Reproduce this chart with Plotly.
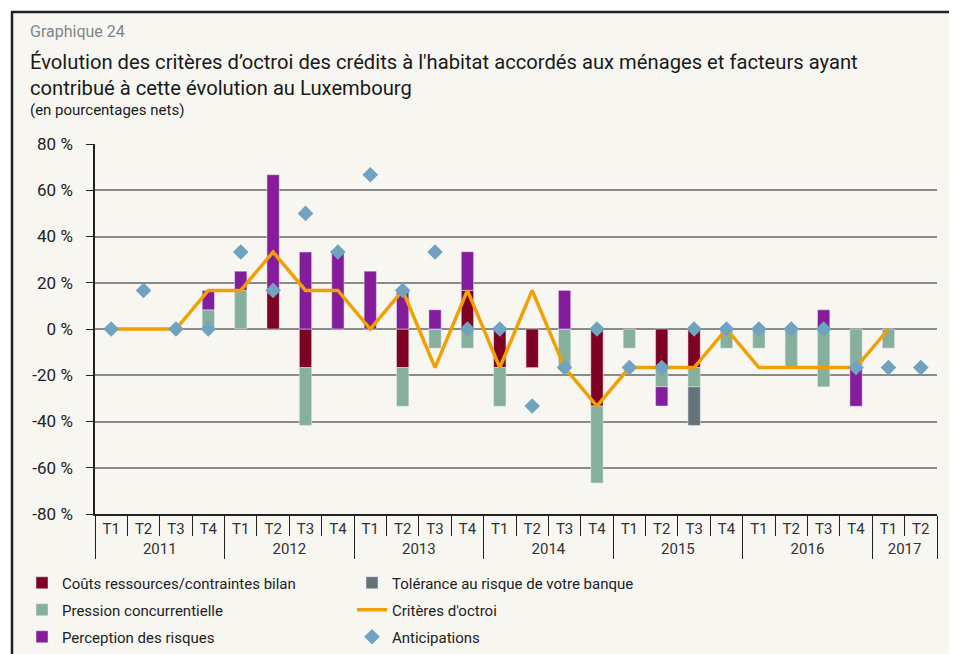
import plotly.graph_objects as go

years = ["2011"] * 4 + ["2012"] * 4 + ["2013"] * 4 + ["2014"] * 4 + ["2015"] * 4 + ["2016"] * 4 + ["2017"] * 2
quarters = ["T1", "T2", "T3", "T4"] * 6 + ["T1", "T2"]

couts = [None, None, None, None,
         None, 16.7, -16.7, None,
         None, -16.7, None, 16.7,
         -16.7, -16.7, None, -33.3,
         None, -16.7, -16.7, None,
         None, None, None, None,
         None, None]
pression = [None, None, None, 8.3,
            16.7, None, -25.0, None,
            None, -16.7, -8.3, -8.3,
            -16.7, None, -16.7, -33.3,
            -8.3, -8.3, -8.3, -8.3,
            -8.3, -16.7, -25.0, -16.7,
            -8.3, None]
perception = [None, None, None, 8.3,
              8.3, 50.0, 33.3, 33.3,
              25.0, 16.7, 8.3, 16.7,
              None, None, 16.7, None,
              None, -8.3, None, None,
              None, None, 8.3, -16.7,
              None, None]
tolerance = [None] * 18 + [-16.7] + [None] * 7
criteres = [0, 0, 0, 16.7,
            16.7, 33.3, 16.7, 16.7,
            0, 16.7, -16.7, 16.7,
            -16.7, 16.7, -16.7, -33.3,
            -16.7, -16.7, -16.7, 0,
            -16.7, -16.7, -16.7, -16.7,
            0, None]
anticipations = [0, 16.7, 0, 0,
                 33.3, 16.7, 50.0, 33.3,
                 66.7, 16.7, 33.3, 0,
                 0, -33.3, -16.7, 0,
                 -16.7, -16.7, 0, 0,
                 0, 0, 0, -16.7,
                 -16.7, -16.7]

y_ticks = [-80, -60, -40, -20, 0, 20, 40, 60, 80]
y_labels = ["-80 %", "-60 %", "-40 %", "-20 %", "0 %", "20 %", "40 %", "60 %", "80 %"]

FONT = "Roboto"
x = [years, quarters]

# page offset of the figure inside the page (body margin)
OFF = 8
W, H = 957 - OFF, 654 - OFF
# plot area in figure pixel coordinates
L, R, T, B = 95 - OFF, 937 - OFF, 144 - OFF, 514 - OFF
pw, ph = R - L, B - T


def px(xp):
    return (xp - OFF - L) / pw


def py(yp):
    return (B - (yp - OFF)) / ph


fig = go.Figure()
fig.add_trace(go.Bar(x=x, y=couts, name="Coûts ressources/contraintes bilan",
                     marker_color="#7E0023", legend="legend"))
fig.add_trace(go.Bar(x=x, y=pression, name="Pression concurrentielle",
                     marker_color="#86B09C", legend="legend2"))
fig.add_trace(go.Bar(x=x, y=perception, name="Perception des risques",
                     marker_color="#841C9C", legend="legend3"))
fig.add_trace(go.Bar(x=x, y=tolerance, name="Tolérance au risque de votre banque",
                     marker_color="#64737A", legend="legend"))
fig.add_trace(go.Scatter(x=x, y=criteres, name="Critères d'octroi", mode="lines",
                         line=dict(color="#F0A000", width=3.5), legend="legend2"))
fig.add_trace(go.Scatter(x=x, y=anticipations, name="Anticipations", mode="markers",
                         marker=dict(symbol="diamond", size=12, color="#6FA3C0"),
                         legend="legend3"))


def leg(yc):
    return dict(orientation="h", x=px(22), y=py(yc), xanchor="left", yanchor="middle",
                entrywidth=285, entrywidthmode="pixels", bgcolor="rgba(0,0,0,0)",
                font=dict(size=15, family=FONT, color="#222222"), traceorder="normal")


fig.update_layout(
    width=W, height=H,
    margin=dict(l=L, r=W - R, t=T, b=H - B, autoexpand=False),
    paper_bgcolor="white",
    plot_bgcolor="#F7F6F1",
    barmode="relative",
    bargap=0.62,
    font=dict(family=FONT, color="#222222", size=15),
    showlegend=True,
    legend=leg(583),
    legend2=leg(610),
    legend3=leg(637),
    shapes=[dict(type="rect", xref="paper", yref="paper",
                 x0=px(12), x1=px(954), y0=py(12), y1=py(720),
                 fillcolor="#F7F6F1", line=dict(color="#1E2220", width=2.5), layer="below")],
    annotations=[
        dict(text="Graphique 24", xref="paper", yref="paper", x=px(28), y=py(31),
             xanchor="left", yanchor="middle", showarrow=False,
             font=dict(size=16, color="#80868B", family=FONT)),
        dict(text="Évolution des critères d’octroi des crédits à l'habitat accordés aux ménages et facteurs ayant<br>contribué à cette évolution au Luxembourg",
             xref="paper", yref="paper", x=px(28), y=py(75), xanchor="left", yanchor="middle",
             align="left", showarrow=False, font=dict(size=20.2, color="#1A1A1A", family=FONT)),
        dict(text="(en pourcentages nets)", xref="paper", yref="paper", x=px(28), y=py(110),
             xanchor="left", yanchor="middle", showarrow=False,
             font=dict(size=15, color="#1A1A1A", family=FONT)),
    ],
)

fig.update_yaxes(range=[-80, 80], tickvals=y_ticks, ticktext=y_labels,
                 showgrid=True, gridcolor="#8A8A8A", gridwidth=1.5,
                 zeroline=True, zerolinecolor="#8A8A8A", zerolinewidth=1.5,
                 showline=True, linecolor="#222222", linewidth=1.5,
                 ticks="outside", ticklen=7, tickcolor="#222222",
                 tickfont=dict(size=17, color="#222222"), ticklabelstandoff=10)
fig.update_xaxes(type="multicategory", range=[-0.5, 25.5],
                 showline=True, linecolor="#222222", linewidth=1.5,
                 ticks="outside", tickson="boundaries", ticklen=20, tickcolor="#222222",
                 showdividers=True, dividercolor="#222222", dividerwidth=1.2,
                 tickfont=dict(size=15, color="#333333"), showgrid=False)

fig.write_html("out.html")
